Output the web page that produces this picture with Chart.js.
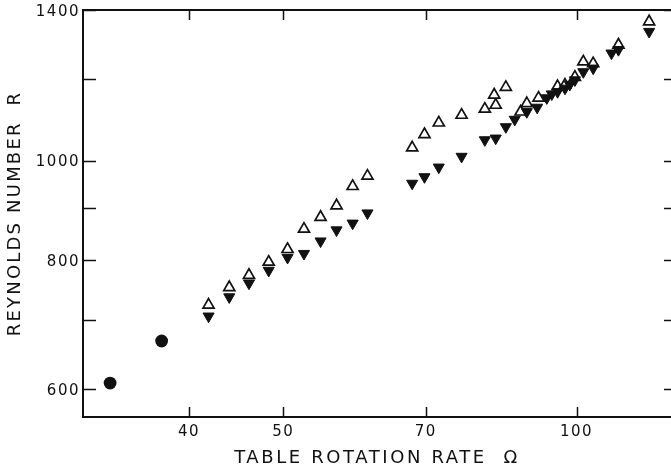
<!DOCTYPE html>
<html>
<head>
<meta charset="utf-8">
<script src="https://cdn.jsdelivr.net/npm/chart.js@4.4.1/dist/chart.umd.min.js"></script>
<style>
  html, body { margin: 0; padding: 0; background: #fff; overflow: hidden; }
  #wrap { width: 671px; height: 469px; position: relative; }
  #my-chart { display: block; }
</style>
</head>
<body>
<div id="wrap"><canvas id="my-chart"></canvas></div>
<script>
// solid circles: lowest rotation rates
const circleOmega = [33.2, 37.5];
const circleR = [608, 668];

// open triangles
const openOmega = [41.9, 44.0, 46.1, 48.3, 50.5, 52.5, 54.6, 56.7, 58.9, 61.0,
  67.8, 69.8, 72.2, 76.2, 80.5, 82.6, 82.3, 84.6, 87.6, 88.9, 91.4,
  95.6, 97.3, 99.6, 101.6, 104.0, 110.4, 118.7];
const openR = [724, 753, 774, 797, 820, 858, 881, 904, 944, 966,
  1029, 1060, 1088, 1107, 1122, 1132, 1158, 1178, 1115, 1136, 1150,
  1180, 1184, 1205, 1247, 1242, 1295, 1364];

// filled (inverted) triangles
const filledOmega = [41.9, 44.0, 46.1, 48.3, 50.5, 52.5, 54.6, 56.7, 58.9, 61.0,
  67.8, 69.8, 72.2, 76.2, 80.5, 82.6, 84.6, 86.4, 88.9, 91.1,
  93.2, 94.3, 95.6, 97.3, 98.4, 99.6, 101.6, 104.0, 108.6, 110.4, 118.7];
const filledR = [706, 737, 760, 782, 805, 812, 835, 856, 869, 889,
  950, 964, 985, 1009, 1047, 1051, 1078, 1096, 1115, 1126,
  1150, 1160, 1166, 1175, 1185, 1197, 1219, 1229, 1271, 1281, 1334];

// axis ticks
const xTicks = [40, 50, 70, 100];
const yTicks = [600, 700, 800, 900, 1000, 1200, 1400];
const yLabels = [600, 800, 1000, 1400];

const xTitle = "TABLE ROTATION RATE  \u03A9";
const yTitle = "REYNOLDS NUMBER  R";

const toPoints = (xs, ys) => xs.map((x, i) => ({ x: x, y: ys[i] }));

const ink = "#111";
const tickFont = { family: "DejaVu Sans", size: 15 };

// box with inward tick marks, plus the two axis titles
const framePlugin = {
  id: "frame",
  beforeDraw(chart) {
    chart.ctx.letterSpacing = "1.5px";
  },
  afterDraw(chart) {
    const { ctx, chartArea: a, scales } = chart;
    ctx.save();
    ctx.strokeStyle = ink;
    ctx.lineWidth = 2;
    ctx.beginPath();
    ctx.moveTo(a.right, a.top);
    ctx.lineTo(a.left, a.top);
    ctx.lineTo(a.left, a.bottom);
    ctx.lineTo(a.right, a.bottom);
    ctx.stroke();

    ctx.lineWidth = 1.5;
    ctx.beginPath();
    xTicks.forEach((v) => {
      const px = Math.round(scales.x.getPixelForValue(v)) + 0.5;
      ctx.moveTo(px, a.bottom);
      ctx.lineTo(px, a.bottom - 10);
      ctx.moveTo(px, a.top);
      ctx.lineTo(px, a.top + 10);
    });
    yTicks.forEach((v) => {
      const py = Math.round(scales.y.getPixelForValue(v)) + 0.5;
      ctx.moveTo(a.left, py);
      ctx.lineTo(a.left + 13, py);
      ctx.moveTo(a.right, py);
      ctx.lineTo(a.right - 7, py);
    });
    ctx.stroke();

    // axis titles
    ctx.fillStyle = ink;
    ctx.font = "18px 'DejaVu Sans'";
    ctx.textAlign = "center";
    ctx.textBaseline = "middle";
    ctx.letterSpacing = "2.6px";
    ctx.fillText(xTitle, 377, 458);
    ctx.letterSpacing = "2.2px";
    ctx.translate(15, (a.top + a.bottom) / 2);
    ctx.rotate(-Math.PI / 2);
    ctx.fillText(yTitle, 0, 0);
    ctx.restore();
    ctx.letterSpacing = "0px";
  },
};

new Chart(document.getElementById("my-chart"), {
  type: "scatter",
  data: {
    datasets: [
      {
        label: "filled",
        data: toPoints(filledOmega, filledR),
        pointStyle: "triangle",
        rotation: 180,
        pointRadius: 6.4,
        backgroundColor: ink,
        borderColor: ink,
        borderWidth: 1,
        clip: false,
      },
      {
        label: "open",
        data: toPoints(openOmega, openR),
        pointStyle: "triangle",
        pointRadius: 6.4,
        backgroundColor: "#fff",
        borderColor: ink,
        borderWidth: 1.7,
        clip: false,
      },
      {
        label: "circles",
        data: toPoints(circleOmega, circleR),
        pointStyle: "circle",
        pointRadius: 6.4,
        backgroundColor: ink,
        borderColor: ink,
        borderWidth: 0,
        clip: false,
      },
    ],
  },
  options: {
    responsive: true,
    maintainAspectRatio: false,
    animation: false,
    events: [],
    layout: { autoPadding: false, padding: { top: 10, left: 0, right: 0, bottom: 0 } },
    plugins: {
      legend: { display: false },
      tooltip: { enabled: false },
    },
    scales: {
      x: {
        type: "logarithmic",
        min: 31.14,
        max: 125,
        grid: { display: false, drawTicks: false },
        border: { display: false },
        afterBuildTicks: (scale) => {
          scale.ticks = xTicks.map((v) => ({ value: v }));
        },
        afterFit: (scale) => {
          scale.height = 52;
          scale.paddingLeft = 0;
          scale.paddingRight = 0;
        },
        ticks: {
          autoSkip: false,
          maxRotation: 0,
          padding: 6,
          color: ink,
          font: tickFont,
          callback: (value) => String(value),
        },
      },
      y: {
        type: "logarithmic",
        min: 563.6,
        max: 1400,
        grid: { display: false, drawTicks: false },
        border: { display: false },
        afterBuildTicks: (scale) => {
          scale.ticks = yTicks.map((v) => ({ value: v }));
        },
        afterFit: (scale) => {
          scale.width = 83;
          scale.paddingTop = 0;
          scale.paddingBottom = 0;
        },
        ticks: {
          autoSkip: false,
          padding: 3,
          labelOffset: 2,
          color: ink,
          font: tickFont,
          callback: (value) => (yLabels.includes(value) ? String(value) : ""),
        },
      },
    },
  },
  plugins: [framePlugin],
});
</script>
</body>
</html>
